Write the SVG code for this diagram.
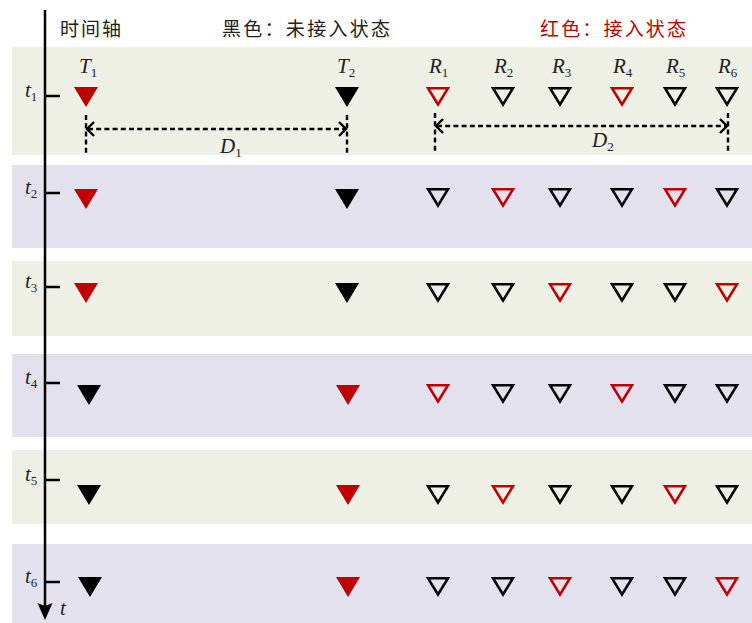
<svg xmlns="http://www.w3.org/2000/svg" xmlns:xlink="http://www.w3.org/1999/xlink" width="752" height="623" viewBox="0 0 752 623">
<style>
.bg{fill:#ffffff}
.bandG{fill:#EEF0E6}
.bandP{fill:#E4E1EE}
.red{fill:#C00000;stroke:#C00000}
.blk{fill:#000000;stroke:#000000}
.math{font-family:"Liberation Serif","DejaVu Serif",serif;font-style:italic;font-size:21px;fill:#222}
.sub{font-style:normal;font-size:13px}
.cjk{font-family:"Noto Sans CJK SC","Noto Sans CJK JP",sans-serif;font-size:19px;font-weight:400}
.axis{stroke:#000;stroke-width:2.5;fill:none}
.dash{stroke:#000;stroke-width:2.4;stroke-dasharray:5,3.2;fill:none}
.chev{stroke:#000;stroke-width:2.4;fill:none}
</style>
<defs>
<path id="ft" d="M-12,0 L12,0 L0,20 Z" stroke="none"/>
<path id="ht" d="M-10,1.2 L10,1.2 L0,17.5 Z" fill="none" stroke-width="2.5"/>
</defs>
<rect class="bg" x="0" y="0" width="752" height="623"/>
<g id="bands">
<rect class="bandG" x="12" y="47" width="740" height="108"/>
<rect class="bandP" x="12" y="165" width="740" height="83"/>
<rect class="bandG" x="12" y="261" width="740" height="75"/>
<rect class="bandP" x="12" y="354" width="740" height="83"/>
<rect class="bandG" x="12" y="450" width="740" height="74"/>
<rect class="bandP" x="12" y="544" width="740" height="79"/>
</g>
<g id="header">
<text class="cjk" x="60" y="36" fill="#222" textLength="61">时间轴</text>
<text class="cjk" x="222" y="36" fill="#222" textLength="168">黑色：未接入状态</text>
<text class="cjk" x="540" y="36" fill="#C00000" textLength="146">红色：接入状态</text>
</g>
<g id="time-axis">
<line class="axis" x1="45" y1="10" x2="45" y2="606"/>
<path d="M37.5,603 L45,620 L52.5,603 L45,606 Z" fill="#000"/>
<text class="math" x="60" y="615">t</text>
<line class="axis" x1="45" y1="96" x2="60" y2="96"/>
<line class="axis" x1="45" y1="193" x2="60" y2="193"/>
<line class="axis" x1="45" y1="287" x2="60" y2="287"/>
<line class="axis" x1="45" y1="383" x2="60" y2="383"/>
<line class="axis" x1="45" y1="480" x2="60" y2="480"/>
<line class="axis" x1="45" y1="582" x2="60" y2="582"/>
<text class="math" x="25" y="97">t<tspan class="sub" dy="4">1</tspan></text>
<text class="math" x="25" y="194">t<tspan class="sub" dy="4">2</tspan></text>
<text class="math" x="25" y="288">t<tspan class="sub" dy="4">3</tspan></text>
<text class="math" x="25" y="384">t<tspan class="sub" dy="4">4</tspan></text>
<text class="math" x="25" y="481">t<tspan class="sub" dy="4">5</tspan></text>
<text class="math" x="25" y="583">t<tspan class="sub" dy="4">6</tspan></text>
</g>
<g id="labels">
<text class="math" x="79" y="73">T<tspan class="sub" dy="4">1</tspan></text>
<text class="math" x="337" y="73">T<tspan class="sub" dy="4">2</tspan></text>
<text class="math" x="429" y="73">R<tspan class="sub" dy="4">1</tspan></text>
<text class="math" x="494" y="73">R<tspan class="sub" dy="4">2</tspan></text>
<text class="math" x="552" y="73">R<tspan class="sub" dy="4">3</tspan></text>
<text class="math" x="613" y="73">R<tspan class="sub" dy="4">4</tspan></text>
<text class="math" x="666" y="73">R<tspan class="sub" dy="4">5</tspan></text>
<text class="math" x="718" y="73">R<tspan class="sub" dy="4">6</tspan></text>
<text class="math" x="220" y="153">D<tspan class="sub" dy="4">1</tspan></text>
<text class="math" x="592" y="147">D<tspan class="sub" dy="4">2</tspan></text>
</g>
<g id="row-t1">
<use href="#ft" x="86" y="87" class="red"/>
<use href="#ft" x="347" y="87" class="blk"/>
<use href="#ht" x="438" y="87" class="red"/>
<use href="#ht" x="503" y="87" class="blk"/>
<use href="#ht" x="560" y="87" class="blk"/>
<use href="#ht" x="622" y="87" class="red"/>
<use href="#ht" x="675" y="87" class="blk"/>
<use href="#ht" x="727" y="87" class="blk"/>
</g>
<g id="row-t2">
<use href="#ft" x="86" y="189" class="red"/>
<use href="#ft" x="347" y="189" class="blk"/>
<use href="#ht" x="438" y="188" class="blk"/>
<use href="#ht" x="503" y="188" class="red"/>
<use href="#ht" x="560" y="188" class="blk"/>
<use href="#ht" x="622" y="188" class="blk"/>
<use href="#ht" x="675" y="188" class="red"/>
<use href="#ht" x="727" y="188" class="blk"/>
</g>
<g id="row-t3">
<use href="#ft" x="86" y="283" class="red"/>
<use href="#ft" x="347" y="283" class="blk"/>
<use href="#ht" x="438" y="283" class="blk"/>
<use href="#ht" x="503" y="283" class="blk"/>
<use href="#ht" x="560" y="283" class="red"/>
<use href="#ht" x="622" y="283" class="blk"/>
<use href="#ht" x="675" y="283" class="blk"/>
<use href="#ht" x="727" y="283" class="red"/>
</g>
<g id="row-t4">
<use href="#ft" x="89" y="385" class="blk"/>
<use href="#ft" x="348" y="385" class="red"/>
<use href="#ht" x="438" y="384" class="red"/>
<use href="#ht" x="503" y="384" class="blk"/>
<use href="#ht" x="560" y="384" class="blk"/>
<use href="#ht" x="622" y="384" class="red"/>
<use href="#ht" x="675" y="384" class="blk"/>
<use href="#ht" x="727" y="384" class="blk"/>
</g>
<g id="row-t5">
<use href="#ft" x="89" y="485" class="blk"/>
<use href="#ft" x="348" y="485" class="red"/>
<use href="#ht" x="438" y="485" class="blk"/>
<use href="#ht" x="503" y="485" class="red"/>
<use href="#ht" x="560" y="485" class="blk"/>
<use href="#ht" x="622" y="485" class="blk"/>
<use href="#ht" x="675" y="485" class="red"/>
<use href="#ht" x="727" y="485" class="blk"/>
</g>
<g id="row-t6">
<use href="#ft" x="90" y="577" class="blk"/>
<use href="#ft" x="348" y="577" class="red"/>
<use href="#ht" x="438" y="577" class="blk"/>
<use href="#ht" x="503" y="577" class="blk"/>
<use href="#ht" x="560" y="577" class="red"/>
<use href="#ht" x="622" y="577" class="blk"/>
<use href="#ht" x="675" y="577" class="blk"/>
<use href="#ht" x="727" y="577" class="red"/>
</g>
<g id="connectors">
<line class="dash" x1="86" y1="115" x2="86" y2="155"/>
<line class="dash" x1="347" y1="115" x2="347" y2="155"/>
<line class="dash" x1="88" y1="129" x2="345" y2="129"/>
<path class="chev" d="M94,122 L87,129 L94,136"/>
<path class="chev" d="M339,122 L346,129 L339,136"/>
<line class="dash" x1="435" y1="113" x2="435" y2="152"/>
<line class="dash" x1="728" y1="113" x2="728" y2="152"/>
<line class="dash" x1="437" y1="126" x2="726" y2="126"/>
<path class="chev" d="M443,119 L436,126 L443,133"/>
<path class="chev" d="M720,119 L727,126 L720,133"/>
</g>
</svg>
